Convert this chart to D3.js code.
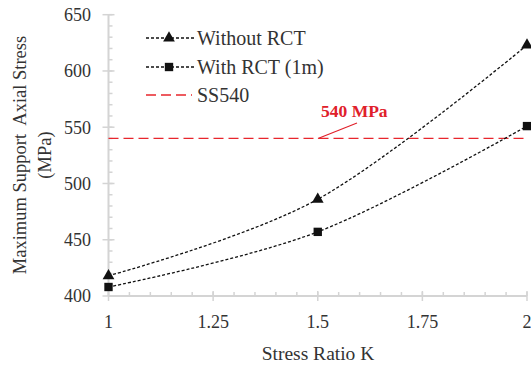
<!DOCTYPE html>
<html>
<head>
<meta charset="utf-8">
<script src="https://cdn.jsdelivr.net/npm/d3@7"></script>
<style>
  body { margin: 0; background: #fff; }
  text { font-family: "Liberation Serif", "DejaVu Serif", serif; fill: #333; }
</style>
</head>
<body>
<div class="chart"></div>
<script>
var svgWidth = 531;
var svgHeight = 366;

// data
var stressRatio = [1, 1.5, 2];
var withoutRCT = [418, 486, 623];
var withRCT = [408, 457, 551];
var ssLimit = 540;
var xTicks = [1, 1.25, 1.5, 1.75, 2];
var yTicks = [400, 450, 500, 550, 600, 650];

var svg = d3.select(".chart")
  .append("svg")
  .attr("width", svgWidth)
  .attr("height", svgHeight);

var x = d3.scaleLinear().domain([1, 2]).range([108.5, 527]);
var y = d3.scaleLinear().domain([400, 650]).range([296, 14.7]);

var axisColor = "#d4d4d4";

// minor ticks
var xMinor = d3.range(1, 2.0001, 0.05);
var yMinor = d3.range(400, 650.001, 10);

svg.append("g").selectAll("line")
  .data(xMinor)
  .enter()
  .append("line")
  .attr("x1", d => x(d)).attr("x2", d => x(d))
  .attr("y1", y(400)).attr("y2", y(400) - 4)
  .attr("stroke", axisColor).attr("stroke-width", 1.5);

svg.append("g").selectAll("line")
  .data(yMinor)
  .enter()
  .append("line")
  .attr("x1", x(1)).attr("x2", x(1) + 4)
  .attr("y1", d => y(d)).attr("y2", d => y(d))
  .attr("stroke", axisColor).attr("stroke-width", 1.5);

// major ticks cross the axis
svg.append("g").selectAll("line")
  .data(xTicks)
  .enter()
  .append("line")
  .attr("x1", d => x(d)).attr("x2", d => x(d))
  .attr("y1", y(400) - 5).attr("y2", y(400) + 5)
  .attr("stroke", axisColor).attr("stroke-width", 1.5);

svg.append("g").selectAll("line")
  .data(yTicks)
  .enter()
  .append("line")
  .attr("x1", x(1) - 6).attr("x2", x(1) + 6)
  .attr("y1", d => y(d)).attr("y2", d => y(d))
  .attr("stroke", axisColor).attr("stroke-width", 1.5);

// axis lines
svg.append("line")
  .attr("x1", x(1)).attr("x2", x(2))
  .attr("y1", y(400)).attr("y2", y(400))
  .attr("stroke", axisColor).attr("stroke-width", 2);
svg.append("line")
  .attr("x1", x(1)).attr("x2", x(1))
  .attr("y1", y(400)).attr("y2", y(650))
  .attr("stroke", axisColor).attr("stroke-width", 2);

// tick labels
svg.append("g").selectAll("text")
  .data(xTicks)
  .enter()
  .append("text")
  .attr("x", d => x(d))
  .attr("y", 328)
  .attr("text-anchor", "middle")
  .attr("font-size", 18)
  .text(d => d);

svg.append("g").selectAll("text")
  .data(yTicks)
  .enter()
  .append("text")
  .attr("x", 91)
  .attr("y", d => y(d))
  .attr("dy", "0.35em")
  .attr("text-anchor", "end")
  .attr("font-size", 18)
  .text(d => d);

// axis titles
svg.append("text")
  .attr("x", 318)
  .attr("y", 360)
  .attr("text-anchor", "middle")
  .attr("font-size", 19.5)
  .text("Stress Ratio K");

var yTitle = svg.append("g")
  .attr("transform", "translate(0, 155) rotate(-90)");
yTitle.append("text")
  .attr("x", 0).attr("y", 26)
  .attr("text-anchor", "middle")
  .attr("font-size", 18.5)
  .attr("xml:space", "preserve")
  .text("Maximum Support  Axial Stress");
yTitle.append("text")
  .attr("x", 0).attr("y", 51)
  .attr("text-anchor", "middle")
  .attr("font-size", 18.5)
  .text("(MPa)");

// SS540 limit line
svg.append("line")
  .attr("x1", x(1)).attr("x2", x(2))
  .attr("y1", y(ssLimit)).attr("y2", y(ssLimit))
  .attr("stroke", "#e8262d").attr("stroke-width", 1.3)
  .attr("stroke-dasharray", "10,5");

// annotation
svg.append("text")
  .attr("x", 321)
  .attr("y", 117)
  .attr("font-size", 17.5)
  .attr("font-weight", "bold")
  .style("fill", "#e0202a")
  .text(ssLimit + " MPa");
svg.append("line")
  .attr("x1", 318).attr("y1", y(ssLimit))
  .attr("x2", 357).attr("y2", 123)
  .attr("stroke", "#e0202a").attr("stroke-width", 1.2);

// series
var line = d3.line()
  .x(d => x(d[0]))
  .y(d => y(d[1]))
  .curve(d3.curveCatmullRom.alpha(0));

var series = [
  { name: "Without RCT", values: withoutRCT, symbol: d3.symbolTriangle, size: 60 },
  { name: "With RCT (1m)", values: withRCT, symbol: d3.symbolSquare, size: 70 }
];

series.forEach(function(s) {
  var pts = stressRatio.map((k, i) => [k, s.values[i]]);
  svg.append("path")
    .datum(pts)
    .attr("d", line)
    .attr("fill", "none")
    .attr("stroke", "#111")
    .attr("stroke-width", 1.3)
    .attr("stroke-dasharray", "3,2");
  svg.append("g").selectAll("path")
    .data(pts)
    .enter()
    .append("path")
    .attr("d", d3.symbol().type(s.symbol).size(s.size))
    .attr("transform", d => `translate(${x(d[0])}, ${y(d[1])})`)
    .attr("fill", "#111");
});

// legend
var legendY = [38, 67, 95];
var legend = svg.append("g");

series.forEach(function(s, i) {
  legend.append("line")
    .attr("x1", 146).attr("x2", 195)
    .attr("y1", legendY[i]).attr("y2", legendY[i])
    .attr("stroke", "#111").attr("stroke-width", 1.3)
    .attr("stroke-dasharray", "3,2");
  legend.append("path")
    .attr("d", d3.symbol().type(s.symbol).size(s.size))
    .attr("transform", `translate(169, ${legendY[i]})`)
    .attr("fill", "#111");
  legend.append("text")
    .attr("x", 197).attr("y", legendY[i])
    .attr("dy", "0.35em")
    .attr("font-size", 20)
    .text(s.name);
});

legend.append("line")
  .attr("x1", 146).attr("x2", 192)
  .attr("y1", legendY[2]).attr("y2", legendY[2])
  .attr("stroke", "#e8262d").attr("stroke-width", 1.3)
  .attr("stroke-dasharray", "10,5");
legend.append("text")
  .attr("x", 197).attr("y", legendY[2])
  .attr("dy", "0.35em")
  .attr("font-size", 20)
  .text("SS540");
</script>
</body>
</html>
